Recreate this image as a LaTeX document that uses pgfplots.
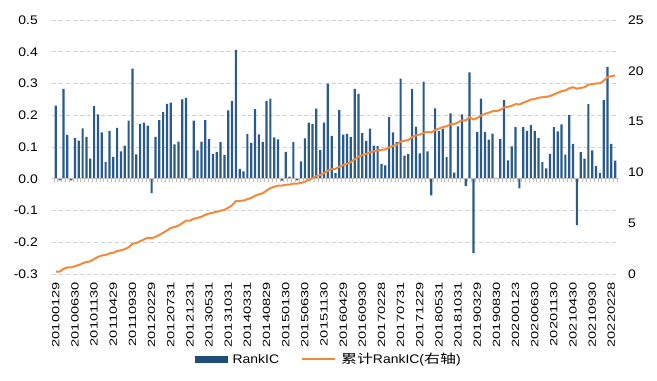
\documentclass[border=0pt]{standalone}
\usepackage{pgfplots}
\pgfplotsset{compat=1.18}
\usepackage{pgfplotstable}
\usepackage{fontspec}
\setmainfont{Liberation Sans}[FakeStretch=1.12]
\newfontfamily\cjk{Noto Sans CJK SC}[FakeStretch=1.28]
\newfontfamily\datefont{Liberation Sans}[FakeStretch=1.4]
\definecolor{barblue}{HTML}{2A5B8C}
\definecolor{legblue}{HTML}{1F4E79}
\definecolor{lineorange}{HTML}{F28A3A}
\definecolor{gridgray}{HTML}{D2D2D2}
\definecolor{zerogray}{HTML}{BFBFBF}

\pgfplotstableread{
x y c
0 0.230 0.230
1 -0.005 0.225
2 0.283 0.508
3 0.138 0.646
4 -0.005 0.641
5 0.129 0.770
6 0.120 0.890
7 0.159 1.049
8 0.132 1.181
9 0.063 1.244
10 0.229 1.473
11 0.203 1.676
12 0.146 1.822
13 0.052 1.874
14 0.151 2.025
15 0.069 2.094
16 0.160 2.254
17 0.086 2.340
18 0.104 2.444
19 0.183 2.627
20 0.347 2.974
21 0.077 3.051
22 0.173 3.224
23 0.177 3.401
24 0.167 3.568
25 -0.045 3.523
26 0.132 3.655
27 0.185 3.840
28 0.210 4.050
29 0.236 4.286
30 0.240 4.526
31 0.108 4.634
32 0.117 4.751
33 0.250 5.001
34 0.255 5.256
35 -0.003 5.253
36 0.183 5.436
37 0.089 5.525
38 0.117 5.642
39 0.185 5.827
40 0.125 5.952
41 0.078 6.030
42 0.085 6.115
43 0.115 6.230
44 0.075 6.305
45 0.215 6.520
46 0.245 6.765
47 0.406 7.171
48 0.031 7.202
49 0.023 7.225
50 0.141 7.366
51 0.113 7.479
52 0.219 7.698
53 0.140 7.838
54 0.115 7.953
55 0.245 8.198
56 0.252 8.450
57 0.130 8.580
58 0.124 8.704
59 -0.006 8.698
60 0.085 8.783
61 0.007 8.790
62 0.115 8.905
63 -0.005 8.900
64 0.055 8.955
65 0.127 9.082
66 0.177 9.259
67 0.173 9.432
68 0.221 9.653
69 0.090 9.743
70 0.177 9.920
71 0.300 10.180
72 0.135 10.315
73 0.018 10.353
74 0.216 10.569
75 0.139 10.718
76 0.141 10.859
77 0.132 11.001
78 0.283 11.284
79 0.267 11.551
80 0.144 11.695
81 0.119 11.814
82 0.158 11.972
83 0.104 12.076
84 0.103 12.179
85 0.047 12.226
86 0.042 12.268
87 0.194 12.462
88 0.146 12.608
89 0.115 12.723
90 0.315 13.038
91 0.073 13.111
92 0.078 13.189
93 0.283 13.472
94 0.164 13.636
95 0.080 13.716
96 0.306 13.902
97 0.086 13.988
98 -0.052 13.936
99 0.222 14.158
100 0.151 14.309
101 0.158 14.467
102 0.068 14.535
103 0.206 14.741
104 0.019 14.760
105 0.165 14.925
106 0.203 15.128
107 -0.023 15.105
108 0.335 15.440
109 -0.234 15.206
110 0.148 15.354
111 0.252 15.606
112 0.148 15.754
113 0.123 15.877
114 0.142 16.019
115 0.003 16.022
116 0.125 16.147
117 0.248 16.395
118 0.058 16.453
119 0.102 16.555
120 0.163 16.718
121 -0.030 16.688
122 0.163 16.851
123 0.151 17.002
124 0.169 17.171
125 0.151 17.222
126 0.128 17.350
127 0.052 17.402
128 0.033 17.435
129 0.078 17.513
130 0.163 17.676
131 0.149 17.825
132 0.171 17.996
133 0.076 18.072
134 0.201 18.273
135 0.110 18.383
136 -0.146 18.237
137 0.084 18.321
138 0.063 18.384
139 0.235 18.619
140 0.089 18.708
141 0.040 18.748
142 0.018 18.766
143 0.248 19.014
144 0.352 19.366
145 0.110 19.476
146 0.057 19.533
}\data

\pgfplotsset{
  common/.style={
    at={(52bp,107bp)}, anchor=south west,
    scale only axis, width=567bp, height=254bp,
    xmin=-1, xmax=147,
  },
}

\begin{document}
\begin{tikzpicture}
\path[use as bounding box] (0,0) rectangle (657bp,381bp);
% bars with left axis
\begin{axis}[common,
  ymin=-0.3, ymax=0.5,
  axis line style={draw=none},
  major tick length=0pt,
  ytick={-0.3,-0.2,...,0.5},
  ymajorgrids,
  grid style={gridgray, dash pattern=on 4bp off 3bp, line width=0.8bp},
  yticklabel style={font=\fontsize{12.5}{14}\selectfont,
    /pgf/number format/fixed, /pgf/number format/fixed zerofill,
    /pgf/number format/precision=1, /pgf/number format/assume math mode=true,
    anchor=east, inner sep=0pt, xshift=-14bp},
  xtick={0,5,...,145},
  xticklabels={20100129,20100630,20101130,20110429,20110930,20120229,20120731,20121231,20130531,20131031,20140331,20140829,20150130,20150630,20151130,20160429,20160930,20170228,20170731,20171229,20180531,20181031,20190329,20190830,20200123,20200630,20201130,20210430,20210930,20220228},
  xticklabel style={rotate=90, anchor=east, inner ysep=0pt, inner xsep=8bp, font=\datefont\fontsize{10.5}{12}\selectfont},
]
\addplot[ybar, bar width=2.2bp, fill=barblue, draw=none] table[x=x, y=y] {\data};
\end{axis}
% zero line with month ticks
\begin{axis}[common,
  ymin=-0.3, ymax=0.5,
  axis x line=middle, axis y line=none,
  axis line style={zerogray, -, line width=0.8bp},
  xtick={-0.5,0.5,...,146.5}, xticklabels={},
  tick align=outside, major tick length=3bp,
  tick style={zerogray, line width=0.6bp},
  ytick=\empty,
]
\end{axis}
% cumulative line, right axis
\begin{axis}[common,
  ymin=0, ymax=25,
  axis line style={draw=none},
  major tick length=0pt,
  xtick=\empty,
  ytick={0,5,...,25},
  yticklabel pos=right,
  yticklabel style={font=\fontsize{12.5}{14}\selectfont, anchor=west, inner sep=0pt, xshift=9bp, /pgf/number format/assume math mode=true},
  legend columns=2,
  legend style={at={(0.2522,-0.3366)}, anchor=west, draw=none, fill=none, inner sep=0pt,
    /tikz/every odd column/.append style={column sep=5bp},
    /tikz/every even column/.append style={column sep=22bp},
    nodes={inner sep=0pt, font=\fontsize{12.5}{14}\selectfont}},
]
\addlegendimage{legend image code/.code={\fill[legblue] (0bp,-3.2bp) rectangle (32bp,3.2bp);}}
\addlegendentry{\fontsize{12.5}{14}\selectfont RankIC}
\addplot[lineorange, line width=2bp, no marks, legend image code/.code={\draw[lineorange, line width=2bp] (0bp,0bp) -- (33bp,0bp);}] table[x=x, y=c] {\data};
\addlegendentry{\fontsize{12.5}{14}\selectfont{\cjk 累计}RankIC({\cjk 右轴})}
\end{axis}
\end{tikzpicture}
\end{document}
